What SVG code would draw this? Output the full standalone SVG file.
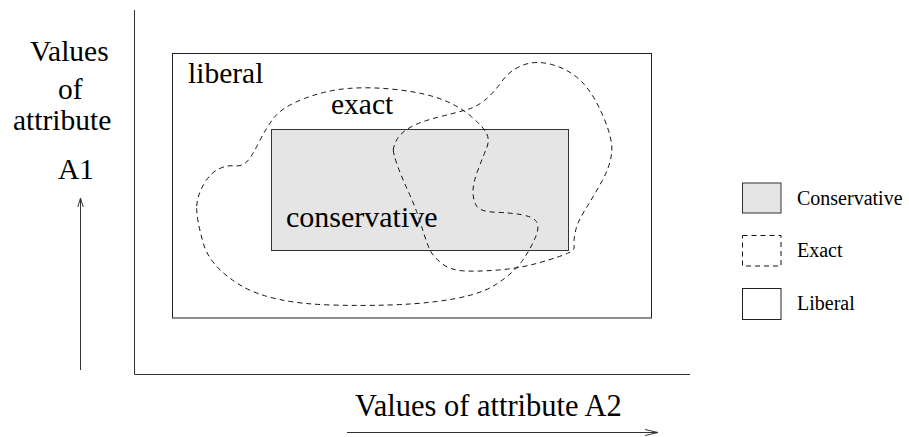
<svg xmlns="http://www.w3.org/2000/svg" width="909" height="437" viewBox="0 0 909 437">
<style>
text{font-family:"Liberation Serif","Times New Roman",serif;fill:#000}
.big{font-size:29.5px}
.leg{font-size:20px}
.solid{fill:none;stroke:#222;stroke-width:1}
.gray{fill:#e5e5e5;stroke:#333;stroke-width:1}
.dash{fill:none;stroke:#111;stroke-width:1;stroke-dasharray:5,4}
.ax{fill:none;stroke:#333;stroke-width:1}
</style>
<rect width="909" height="437" fill="#fff"/>
<g id="axes">
<path class="ax" d="M134.5,10 V374.5 H690"/>
</g>
<g id="liberal">
<rect class="solid" x="172.5" y="53.5" width="479" height="264.5"/>
<text class="big" x="188" y="83">liberal</text>
</g>
<g id="conservative">
<rect class="gray" x="271.5" y="129.5" width="297" height="121"/>
<text class="big" x="286" y="227" style="font-size:30px">conservative</text>
</g>
<g id="exact">
<path class="dash" d="M196.7,208.35 Q196.7,220 203.35,243.35 Q210,266.7 240,285 Q270,303.3 331.65,305 Q393.3,306.7 435,301.7 Q476.7,296.7 495,285 Q513.3,273.3 521.65,261.65 Q530,250 535,238.35 Q540,226.7 536.5,221.7 Q533,216.7 521.5,214.7 Q510,212.7 495,212.2 Q480,211.7 476.5,205.85 Q473,200 473,191.5 Q473,183 478,169.85 Q483,156.7 486.5,148.35 Q490,140 486.5,133.35 Q483,126.7 471.5,116.7 Q460,106.7 443.35,100 Q426.7,93.3 399.85,90 Q373,86.7 349.85,88.35 Q326.7,90 304.85,98.35 Q283,106.7 274.85,116.7 Q266.7,126.7 258.35,143.35 Q250,160 245,163.35 Q240,166.7 233.35,165.85 Q226.7,165 218.35,169.15 Q210,173.3 203.35,185 Q196.7,196.7 196.7,208.35 Z"/>
<path class="dash" d="M393.3,150 Q393.3,146.7 396.65,140 Q400,133.3 410,127.5 Q420,121.7 440,116.7 Q460,111.7 468.35,109.2 Q476.7,106.7 485,100 Q493.3,93.3 501.65,81.65 Q510,70 523.35,65 Q536.7,60 553.35,65 Q570,70 581.65,81.65 Q593.3,93.3 603.3,116.65 Q613.3,140 611.65,153.35 Q610,166.7 601.65,181.7 Q593.3,196.7 585,210 Q576.7,223.3 575,233.3 Q573.3,243.3 574.15,246.65 Q575,250 567.5,253.35 Q560,256.7 540,262.5 Q520,268.3 498.35,270 Q476.7,271.7 463.35,270.85 Q450,270 441.65,263.35 Q433.3,256.7 430,250 Q426.7,243.3 421.7,226.65 Q416.7,210 408.35,191.65 Q400,173.3 396.65,163.3 Q393.3,153.3 393.3,150 Z"/>
<text class="big" x="331" y="114">exact</text>
</g>
<g id="y-label">
<text class="big" x="30" y="61">Values</text>
<text class="big" x="58" y="99">of</text>
<text class="big" x="13" y="130">attribute</text>
<text class="big" x="58" y="179">A1</text>
<path class="ax" d="M80.5,370 V198 M77.8,207 L80.5,198 L83.2,207"/>
</g>
<g id="x-label">
<text class="big" x="355" y="416" style="font-size:30.5px">Values of attribute A2</text>
<path class="ax" d="M347,432.5 H658 M645,429.5 L658,432.5 L645,435.5"/>
</g>
<g id="legend">
<rect class="gray" x="742.5" y="183" width="38.5" height="30"/>
<text class="leg" x="797" y="205">Conservative</text>
<rect class="dash" x="742.5" y="235.5" width="38.5" height="30.5" stroke="#444"/>
<text class="leg" x="797" y="257">Exact</text>
<rect class="solid" x="742.5" y="288.5" width="38.5" height="31"/>
<text class="leg" x="797" y="310">Liberal</text>
</g>
</svg>
